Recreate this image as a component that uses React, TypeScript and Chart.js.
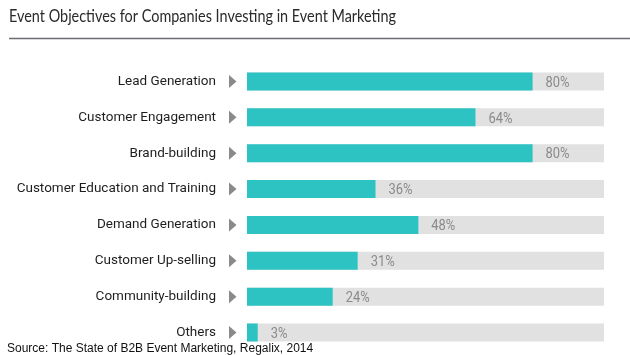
import React, { useEffect, useRef } from "react";
import { Chart, registerables } from "chart.js";

Chart.register(...registerables);

const TITLE = "Event Objectives for Companies Investing in Event Marketing";
const SOURCE = "Source: The State of B2B Event Marketing, Regalix, 2014";
const categories = [
  "Lead Generation",
  "Customer Engagement",
  "Brand-building",
  "Customer Education and Training",
  "Demand Generation",
  "Customer Up-selling",
  "Community-building",
  "Others",
];
const values = [80, 64, 80, 36, 48, 31, 24, 3];
const backgroundValues = [100, 100, 100, 100, 100, 100, 100, 100];

const TEAL = "#2ec3c3";
const GREY_BG = "#e1e1e1";

function fillFitted(ctx: any, text: string, x: number, y: number, width: number) {
  const w = ctx.measureText(text).width;
  ctx.save();
  ctx.translate(x, y);
  ctx.scale(width / w, 1);
  ctx.fillText(text, 0, 0);
  ctx.restore();
}

const decorPlugin = {
  id: "decor",
  afterDraw(chart: any) {
    const ctx = chart.ctx;
    const yScale = chart.scales.y;
    const xScale = chart.scales.x;
    ctx.save();
    // title
    ctx.fillStyle = "#2a2a2a";
    ctx.font = "16.5px Lato";
    ctx.textBaseline = "alphabetic";
    ctx.textAlign = "left";
    fillFitted(ctx, TITLE, 9, 22, 387);
    // rule
    ctx.strokeStyle = "#6b6b73";
    ctx.lineWidth = 1.5;
    ctx.beginPath();
    ctx.moveTo(9, 38.5);
    ctx.lineTo(630, 38.5);
    ctx.stroke();
    // arrows and value labels
    categories.forEach((_, i) => {
      const yc = yScale.getPixelForValue(i);
      ctx.fillStyle = "#8a8a8a";
      ctx.beginPath();
      ctx.moveTo(229, yc - 6.5);
      ctx.lineTo(236.5, yc);
      ctx.lineTo(229, yc + 6.5);
      ctx.closePath();
      ctx.fill();
      const xEnd = xScale.getPixelForValue(values[i]);
      ctx.fillStyle = "#8a8a8a";
      ctx.font = "15px Roboto";
      ctx.textBaseline = "middle";
      const label = values[i] + "%";
      fillFitted(ctx, label, xEnd + 13, yc + 1.5, ctx.measureText(label).width * 0.86);
    });
    // source
    ctx.fillStyle = "#111";
    ctx.font = "12px 'Liberation Sans'";
    ctx.textBaseline = "alphabetic";
    ctx.fillText(SOURCE, 7, 351.5);
    ctx.restore();
  },
};

export default function App() {
  const ref = useRef<HTMLCanvasElement | null>(null);
  useEffect(() => {
    document.body.style.margin = "0";
    const chart = new Chart(ref.current as HTMLCanvasElement, {
      type: "bar",
      data: {
        labels: categories,
        datasets: [
          {
            data: backgroundValues,
            backgroundColor: GREY_BG,
            order: 2,
            grouped: false,
            barPercentage: 0.5,
            categoryPercentage: 1,
          } as any,
          {
            data: values,
            backgroundColor: TEAL,
            order: 1,
            grouped: false,
            barPercentage: 0.5,
            categoryPercentage: 1,
          } as any,
        ],
      },
      options: {
        indexAxis: "y",
        animation: false,
        responsive: true,
        maintainAspectRatio: false,
        layout: { padding: { left: 0, right: 26, top: 63.5, bottom: 4.5 } },
        plugins: { legend: { display: false }, tooltip: { enabled: false }, title: { display: false } },
        scales: {
          x: { display: false, min: 0, max: 100 },
          y: {
            grid: { display: false, drawTicks: false },
            border: { display: false },
            ticks: {
              padding: 31,
              color: "#1e1e1e",
              font: { family: "Roboto", size: 13.5 },
            },
            afterFit(scale: any) {
              scale.width = 247;
              scale.paddingTop = 0;
              scale.paddingBottom = 0;
            },
          },
        },
      },
      plugins: [decorPlugin],
    });
    return () => chart.destroy();
  }, []);
  return (
    <div style={{ position: "relative", width: 630, height: 355, background: "#fff" }}>
      <canvas ref={ref} />
    </div>
  );
}
